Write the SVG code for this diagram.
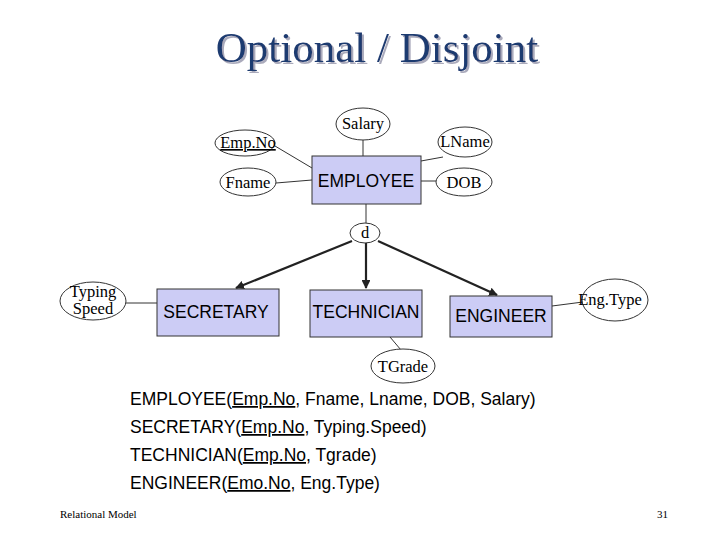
<svg xmlns="http://www.w3.org/2000/svg" width="720" height="540" viewBox="0 0 720 540">
<style>
.ent{fill:#ccccf5;stroke:#333;stroke-width:1}
.att{fill:#fff;stroke:#333;stroke-width:1}
.et{font-family:"Liberation Sans",Arial,sans-serif;font-size:17.5px;fill:#000;text-anchor:middle}
.at{font-family:"Liberation Serif","Times New Roman",serif;font-size:16.5px;fill:#000;text-anchor:middle}
.ln{stroke:#333;stroke-width:1;fill:none}
.ar{stroke:#222;stroke-width:2.2;fill:none;marker-end:url(#ah)}
.bt{font-family:"Liberation Sans",Arial,sans-serif;font-size:17.5px;fill:#000}
</style>
<defs>
<marker id="ah" viewBox="0 0 10 10" refX="9" refY="5" markerWidth="4" markerHeight="4" orient="auto"><path d="M0,0L10,5L0,10z" fill="#222"/></marker>
<filter id="sh" x="-10%" y="-30%" width="120%" height="160%"><feDropShadow dx="2" dy="2" stdDeviation="0.5" flood-color="#aab"/></filter>
</defs>
<rect width="720" height="540" fill="#fff"/>
<text x="377" y="62" font-family="Liberation Serif,serif" font-size="43" fill="#1f3a70" text-anchor="middle" filter="url(#sh)">Optional / Disjoint</text>
<g id="connectors">
<line class="ln" x1="363" y1="140" x2="363" y2="156"/>
<line class="ln" x1="275" y1="146" x2="312" y2="168"/>
<line class="ln" x1="443" y1="157" x2="421" y2="161"/>
<line class="ln" x1="276" y1="183" x2="312" y2="180"/>
<line class="ln" x1="421" y1="181" x2="436" y2="181"/>
<line class="ln" x1="366" y1="204" x2="366" y2="223"/>
<line class="ar" x1="352" y1="241" x2="236" y2="288"/>
<line class="ar" x1="366" y1="243" x2="366" y2="288"/>
<line class="ar" x1="378" y1="241" x2="497" y2="295"/>
<line class="ln" x1="126" y1="303" x2="157" y2="303"/>
<line class="ln" x1="552" y1="306" x2="583" y2="302"/>
<line class="ln" x1="390" y1="337" x2="401" y2="350"/>
</g>
<g id="employee"><rect class="ent" x="312" y="156" width="109" height="48"/><text class="et" x="366" y="187">EMPLOYEE</text></g>
<g id="salary"><ellipse class="att" cx="363" cy="124" rx="27" ry="16"/><text class="at" x="363" y="129">Salary</text></g>
<g id="empno"><ellipse class="att" cx="245" cy="143" rx="30" ry="13"/><text class="at" x="248" y="148" text-decoration="underline">Emp.No</text></g>
<g id="lname"><ellipse class="att" cx="465" cy="142" rx="27" ry="15"/><text class="at" x="465" y="147">LName</text></g>
<g id="fname"><ellipse class="att" cx="248" cy="182" rx="28" ry="14"/><text class="at" x="248" y="188">Fname</text></g>
<g id="dob"><ellipse class="att" cx="464" cy="182" rx="28" ry="14"/><text class="at" x="464" y="188">DOB</text></g>
<g id="d"><ellipse class="att" cx="365" cy="233" rx="15" ry="10"/><text class="at" x="365" y="238">d</text></g>
<g id="secretary"><rect class="ent" x="157" y="289" width="122" height="47"/><text class="et" x="216" y="318">SECRETARY</text></g>
<g id="technician"><rect class="ent" x="310" y="290" width="112" height="47"/><text class="et" x="366" y="318">TECHNICIAN</text></g>
<g id="engineer"><rect class="ent" x="450" y="296" width="102" height="41"/><text class="et" x="501" y="322">ENGINEER</text></g>
<g id="typing"><ellipse class="att" cx="93" cy="301" rx="33" ry="19"/><text class="at" x="93" y="297" font-size="13.5">Typing</text><text class="at" x="93" y="314" font-size="13.5">Speed</text></g>
<g id="engtype"><ellipse class="att" cx="615" cy="300" rx="33" ry="21"/><text class="at" x="610" y="305">Eng.Type</text></g>
<g id="tgrade"><ellipse class="att" cx="403" cy="366" rx="32" ry="17"/><text class="at" x="403" y="372">TGrade</text></g>
<text class="bt" x="130" y="405">EMPLOYEE(<tspan text-decoration="underline">Emp.No</tspan>, Fname, Lname, DOB, Salary)</text>
<text class="bt" x="130" y="433">SECRETARY(<tspan text-decoration="underline">Emp.No</tspan>, Typing.Speed)</text>
<text class="bt" x="130" y="461">TECHNICIAN(<tspan text-decoration="underline">Emp.No</tspan>, Tgrade)</text>
<text class="bt" x="130" y="489">ENGINEER(<tspan text-decoration="underline">Emo.No</tspan>, Eng.Type)</text>
<text x="60" y="518" font-family="Liberation Serif,serif" font-size="11">Relational Model</text>
<text x="657" y="518" font-family="Liberation Serif,serif" font-size="11">31</text>
</svg>
